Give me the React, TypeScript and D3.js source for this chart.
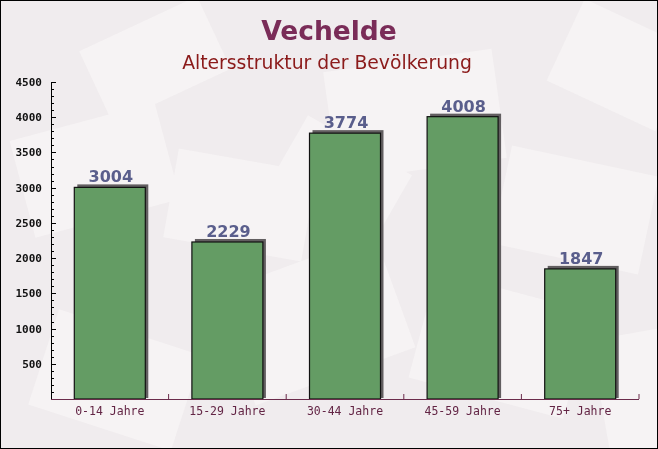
import { useEffect, useRef } from "react";
import * as d3 from "d3";

const categories = ["0-14 Jahre", "15-29 Jahre", "30-44 Jahre", "45-59 Jahre", "75+ Jahre"];
const values = [3004, 2229, 3774, 4008, 1847];
const yTicks = [500, 1000, 1500, 2000, 2500, 3000, 3500, 4000, 4500];

const W = 658;
const H = 449;

const App = () => {
  const svgRef = useRef<SVGSVGElement | null>(null);

  useEffect(() => {
    const svg = d3.select(svgRef.current).attr("width", W).attr("height", H);
    svg.selectAll("*").remove();

    const left = 51;
    const right = 639;
    const top = 82;
    const bottom = 399;

    // background with faint envelope shapes
    svg.append("rect").attr("width", W).attr("height", H).attr("fill", "#f0ecee");
    const bg = svg.append("g").attr("fill", "#fbf9f9").attr("opacity", 0.55);
    const shapes = [
      [20, 120, 150, 100, -15], [170, 160, 140, 90, 10], [330, 60, 170, 110, -8],
      [500, 160, 150, 100, 12], [230, 260, 170, 120, -20], [420, 290, 160, 110, 15],
      [40, 330, 150, 100, 18], [560, 20, 120, 90, 25], [600, 330, 110, 120, -10],
      [280, 140, 120, 80, 30], [90, 20, 130, 80, -25],
    ];
    shapes.forEach(([sx, sy, w, h, r]) => {
      bg.append("rect").attr("x", sx).attr("y", sy).attr("width", w).attr("height", h)
        .attr("transform", `rotate(${r},${sx + w / 2},${sy + h / 2})`);
    });

    const x = d3.scaleBand().domain(categories).range([left, right]);
    const y = d3.scaleLinear().domain([0, 4500]).range([bottom, top]);
    const barW = 71;

    const chart = svg.append("g");

    // y axis with minor ticks every 100
    const minor = d3.range(0, 4501, 100);
    chart.selectAll(".minor").data(minor).enter().append("line")
      .attr("x1", left).attr("x2", (d) => (d % 500 === 0 ? left + 5 : left + 3))
      .attr("y1", (d) => Math.round(y(d)) + 0.5).attr("y2", (d) => Math.round(y(d)) + 0.5)
      .attr("stroke", "#000").attr("stroke-width", 1);
    chart.append("line").attr("x1", left + 0.5).attr("x2", left + 0.5)
      .attr("y1", top).attr("y2", bottom).attr("stroke", "#000");

    chart.selectAll(".ylab").data(yTicks).enter().append("text")
      .attr("x", left - 9).attr("y", (d) => y(d) + 4)
      .attr("text-anchor", "end")
      .attr("font-family", "DejaVu Sans Mono").attr("font-weight", "bold")
      .attr("font-size", 11).attr("fill", "#111")
      .text((d) => d);

    // shadows
    chart.selectAll(".shadow").data(values).enter().append("rect")
      .attr("x", (d, i) => (x(categories[i]) as number) + x.bandwidth() / 2 - barW / 2 + 3)
      .attr("y", (d) => y(d) - 3)
      .attr("width", barW)
      .attr("height", (d) => bottom - y(d) + 2)
      .attr("fill", "#625e60");

    // bars
    chart.selectAll(".bar").data(values).enter().append("rect")
      .attr("x", (d, i) => (x(categories[i]) as number) + x.bandwidth() / 2 - barW / 2)
      .attr("y", (d) => y(d))
      .attr("width", barW)
      .attr("height", (d) => bottom - y(d))
      .attr("fill", "#649c64")
      .attr("stroke", "#111").attr("stroke-width", 1.2);

    chart.selectAll(".val").data(values).enter().append("text")
      .attr("x", (d, i) => (x(categories[i]) as number) + x.bandwidth() / 2 + 1)
      .attr("y", (d) => y(d) - 5)
      .attr("text-anchor", "middle")
      .attr("font-family", "DejaVu Sans").attr("font-weight", "bold")
      .attr("font-size", 16).attr("fill", "#5a5e8c")
      .text((d) => d);

    // x axis
    chart.append("line").attr("x1", left).attr("x2", right)
      .attr("y1", bottom + 0.5).attr("y2", bottom + 0.5).attr("stroke", "#6b2b4b").attr("stroke-width", 1.2);
    chart.selectAll(".xtick").data(categories).enter().append("line")
      .attr("x1", (d) => (x(d) as number) + x.bandwidth()).attr("x2", (d) => (x(d) as number) + x.bandwidth())
      .attr("y1", bottom).attr("y2", bottom - 5).attr("stroke", "#6b2b4b");
    chart.selectAll(".xlab").data(categories).enter().append("text")
      .attr("x", (d) => (x(d) as number) + x.bandwidth() / 2)
      .attr("y", bottom + 16)
      .attr("text-anchor", "middle")
      .attr("font-family", "DejaVu Sans Mono").attr("font-size", 11.5).attr("fill", "#632545")
      .text((d) => d);

    // titles
    svg.append("text").attr("x", W / 2).attr("y", 40).attr("text-anchor", "middle")
      .attr("font-family", "DejaVu Sans").attr("font-weight", "bold").attr("font-size", 26.5)
      .attr("fill", "#7a2c58").text("Vechelde");
    svg.append("text").attr("x", W / 2 - 2).attr("y", 69).attr("text-anchor", "middle")
      .attr("font-family", "DejaVu Sans").attr("font-size", 18.8)
      .attr("fill", "#8b1a1a").text("Altersstruktur der Bevölkerung");

    // frame
    svg.append("rect").attr("x", 0.5).attr("y", 0.5).attr("width", W - 1).attr("height", H - 1)
      .attr("fill", "none").attr("stroke", "#000");
  }, []);

  return (
    <div style={{ position: "absolute", left: 0, top: 0 }}>
      <svg ref={svgRef} style={{ display: "block" }} />
    </div>
  );
};

export default App;
